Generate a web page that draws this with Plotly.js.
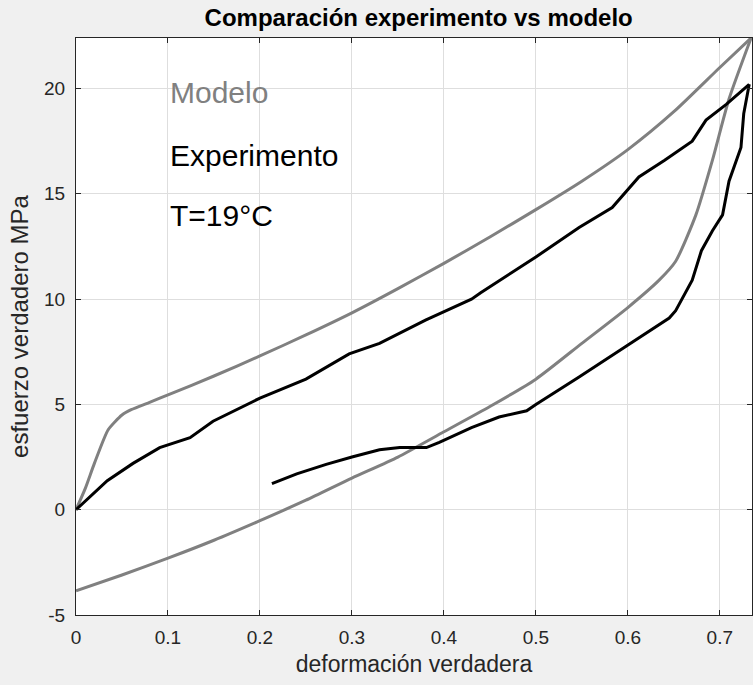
<!DOCTYPE html>
<html>
<head>
<meta charset="utf-8">
<script src="https://cdn.plot.ly/plotly-3.0.1.min.js"></script>
<style>
html,body{margin:0;padding:0;background:#f0f0f0;}
#chart{width:753px;height:685px;}
</style>
</head>
<body>
<div id="chart"></div>
<script>
// Model (grey) loading branch
const modelLoadX = [0, 0.01, 0.02, 0.035, 0.05, 0.06, 0.08, 0.1, 0.15, 0.2, 0.25, 0.3, 0.35, 0.4, 0.45, 0.5, 0.55, 0.6, 0.65, 0.7, 0.734];
const modelLoadY = [0, 1.0, 2.2, 3.8, 4.5, 4.75, 5.1, 5.45, 6.35, 7.3, 8.3, 9.35, 10.5, 11.7, 12.95, 14.25, 15.6, 17.1, 18.9, 21.0, 22.4];
// Model (grey) unloading branch
const modelUnloadX = [0.734, 0.71, 0.692, 0.674, 0.652, 0.634, 0.6, 0.55, 0.5, 0.45, 0.4, 0.35, 0.3, 0.25, 0.2, 0.15, 0.1, 0.05, 0];
const modelUnloadY = [22.4, 19.5, 16.6, 14.0, 11.8, 10.9, 9.6, 7.9, 6.2, 4.9, 3.7, 2.5, 1.5, 0.45, -0.52, -1.45, -2.3, -3.1, -3.85];
// Experiment (black) loading branch
const expLoadX = [0, 0.034, 0.062, 0.091, 0.124, 0.149, 0.2, 0.25, 0.297, 0.33, 0.38, 0.43, 0.44, 0.5, 0.547, 0.583, 0.612, 0.64, 0.67, 0.685, 0.707, 0.732];
const expLoadY = [0, 1.38, 2.2, 2.95, 3.42, 4.2, 5.3, 6.2, 7.4, 7.9, 9.0, 10.0, 10.3, 12.0, 13.4, 14.35, 15.8, 16.6, 17.5, 18.5, 19.25, 20.2];
// Experiment (black) unloading branch
const expUnloadX = [0.732, 0.726, 0.723, 0.71, 0.703, 0.692, 0.68, 0.67, 0.652, 0.645, 0.601, 0.547, 0.5, 0.49, 0.46, 0.43, 0.395, 0.381, 0.352, 0.33, 0.3, 0.272, 0.24, 0.213];
const expUnloadY = [20.2, 18.8, 17.2, 15.6, 14.0, 13.25, 12.3, 10.9, 9.45, 9.1, 7.85, 6.3, 5.0, 4.7, 4.4, 3.9, 3.2, 2.95, 2.95, 2.85, 2.5, 2.15, 1.7, 1.24];

const xTicks = [0, 0.1, 0.2, 0.3, 0.4, 0.5, 0.6, 0.7];
const xTickLabels = ['0', '0.1', '0.2', '0.3', '0.4', '0.5', '0.6', '0.7'];
const yTicks = [-5, 0, 5, 10, 15, 20];
const yTickLabels = ['-5', '0', '5', '10', '15', '20'];

const labels = ['Modelo', 'Experimento', 'T=19°C'];
const labelY = [19.8, 16.8, 13.95];
const labelColors = ['#808080', '#000000', '#000000'];

const grey = '#808080';
const mk = (x, y, c, shape) => ({x: x, y: y, mode: 'lines', line: {color: c, width: 3, shape: shape, smoothing: 0.6}, hoverinfo: 'skip'});
const traces = [
  mk(modelLoadX, modelLoadY, grey, 'spline'),
  mk(modelUnloadX, modelUnloadY, grey, 'spline'),
  mk(expLoadX, expLoadY, '#000000', 'linear'),
  mk(expUnloadX, expUnloadY, '#000000', 'linear')
];

const fontFam = 'Liberation Sans, Arial, Helvetica, sans-serif';
const axisCommon = {
  showgrid: true, gridcolor: '#dedede', gridwidth: 1,
  zeroline: false, showline: true, linecolor: '#262626', linewidth: 1,
  mirror: 'ticks', ticks: 'inside', ticklen: 5, tickcolor: '#262626',
  tickfont: {family: fontFam, size: 19, color: '#262626'}
};

const layout = {
  width: 753, height: 685,
  paper_bgcolor: '#f0f0f0', plot_bgcolor: '#ffffff',
  margin: {l: 76, r: 1, t: 38, b: 70},
  showlegend: false,
  title: {text: '<b>Comparación experimento vs modelo</b>', font: {family: fontFam, size: 24, color: '#000000'}, x: 0.556, xanchor: 'center', y: 0.974, yanchor: 'middle'},
  xaxis: Object.assign({}, axisCommon, {
    range: [0, 0.735], tickvals: xTicks, ticktext: xTickLabels, ticklabelstandoff: 5,
    title: {text: 'deformación verdadera', font: {family: fontFam, size: 23, color: '#262626'}, standoff: 9}
  }),
  yaxis: Object.assign({}, axisCommon, {
    range: [-5, 22.4], tickvals: yTicks, ticktext: yTickLabels, ticklabelstandoff: 6,
    title: {text: 'esfuerzo verdadero MPa', font: {family: fontFam, size: 24, color: '#262626'}, standoff: 8}
  }),
  annotations: labels.map((t, i) => ({
    x: 0.1, y: labelY[i], xref: 'x', yref: 'y', text: t, showarrow: false,
    xanchor: 'left', yanchor: 'middle', font: {family: fontFam, size: 30, color: labelColors[i]}
  }))
};

Plotly.newPlot('chart', traces, layout, {displayModeBar: false, staticPlot: true});
</script>
</body>
</html>
